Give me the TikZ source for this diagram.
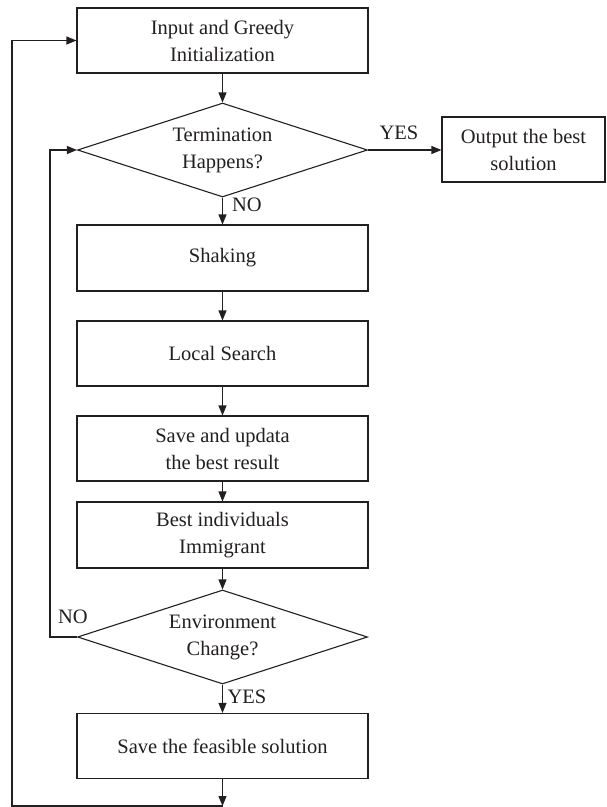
\documentclass[tikz,border=0pt]{standalone}
\usepackage{fontspec}
\setmainfont{Liberation Serif}
\usetikzlibrary{shapes.geometric,arrows.meta}
\definecolor{ink}{HTML}{231F20}
\begin{document}
\begin{tikzpicture}[x=1pt,y=-1pt,
  font=\fontsize{20.5}{27}\selectfont,
  box/.style={draw=ink, text=ink, line width=1.1pt, rectangle, minimum width=291pt, minimum height=65pt, align=center, inner sep=0pt},
  dec/.style={draw=ink, text=ink, line width=1.1pt, diamond, aspect=3, minimum width=290pt, minimum height=94pt, align=center, inner sep=0pt},
  arr/.style={draw=ink, line width=1.1pt, -{Triangle[length=10pt,width=8pt]}},
  lbl/.style={text=ink, inner sep=0pt}]
\useasboundingbox (0,0) rectangle (606,807);

\node[box] (init) at (222.5,40.5) {Input and Greedy\\Initialization};
\node[dec] (term) at (222.5,150) {Termination\\Happens?};
\node[box, minimum width=163pt] (out) at (523.5,149.5) {Output the best\\solution};
\node[box, minimum height=66pt] (shake) at (222.5,258) {Shaking};
\node[box] (ls) at (222.5,353.5) {Local Search};
\node[box] (save) at (222.5,448.5) {Save and updata\\the best result};
\node[box, minimum height=66pt] (best) at (222.5,535) {Best individuals\\Immigrant};
\node[dec] (env) at (222.5,637) {Environment\\Change?};
\node[box] (feas) at (222.5,746) {Save the feasible solution};

\node[lbl] (yes1) at (399,133) {YES};
\node[lbl] (no1) at (247,205) {NO};
\node[lbl] (no2) at (73,617) {NO};
\node[lbl] (yes2) at (247,697) {YES};

\coordinate (bend) at (222.5,806);
\coordinate (lowleft) at (12,806);
\coordinate (nl) at (50,637);

\draw[arr] (init) -- (term);
\draw[arr] (term.east) -- (out.west |- term.east);
\draw[arr] (term) -- (shake);
\draw[arr] (shake) -- (ls);
\draw[arr] (ls) -- (save);
\draw[arr] (save) -- (best);
\draw[arr] (best) -- (env);
\draw[arr] (env) -- (feas);
\draw[arr] (feas) -- (bend);
\draw[arr] (bend) -- (lowleft) |- (init.west);
\draw[arr] (env.west) -- (nl) |- (term.west);
\end{tikzpicture}
\end{document}
